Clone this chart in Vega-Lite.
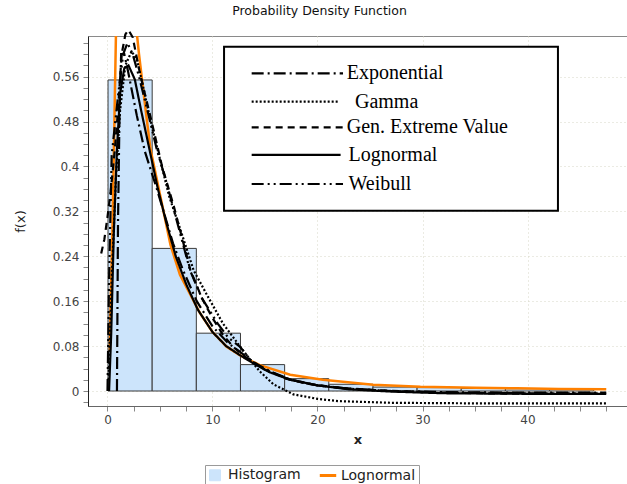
{
  "$schema": "https://vega.github.io/schema/vega-lite/v6.json",
  "autosize": "none",
  "width": 539,
  "height": 370,
  "padding": {"left": 88, "top": 36, "right": 0, "bottom": 78},
  "background": "white",
  "title": {"text": "Probability Density Function", "font": "DejaVu Sans", "fontSize": 12.5, "fontWeight": "normal", "color": "#111", "anchor": "middle", "frame": "group", "dx": -38, "offset": 8},
  "config": {
    "view": {"stroke": "#8a8a8a", "strokeWidth": 1},
    "axis": {"labelFont": "DejaVu Sans", "labelFontSize": 12, "labelColor": "#444", "titleFont": "DejaVu Sans", "titleFontSize": 13, "titleColor": "#222", "tickColor": "#888", "gridColor": "#d6d6c6", "gridDash": [1, 3], "labelOverlap": false},
    "legend": {"orient": "none", "legendX": 117, "legendY": 429, "direction": "horizontal",
               "strokeColor": "#9a9a9a", "padding": 3, "labelFont": "DejaVu Sans", "labelFontSize": 14, "labelColor": "#222",
               "columnPadding": 12, "symbolSize": 270, "labelOffset": 6}
  },
  "datasets": {
    "hist": [
      {"bin_start": 0.05, "bin_end": 4.255, "density": 0.554, "series": "Histogram"},
      {"bin_start": 4.255, "bin_end": 8.46, "density": 0.254, "series": "Histogram"},
      {"bin_start": 8.46, "bin_end": 12.665, "density": 0.103, "series": "Histogram"},
      {"bin_start": 12.665, "bin_end": 16.87, "density": 0.047, "series": "Histogram"},
      {"bin_start": 16.87, "bin_end": 21.075, "density": 0.022, "series": "Histogram"},
      {"bin_start": 21.075, "bin_end": 25.28, "density": 0.012, "series": "Histogram"},
      {"bin_start": 25.28, "bin_end": 29.485, "density": 0.007, "series": "Histogram"},
      {"bin_start": 29.485, "bin_end": 33.69, "density": 0.006, "series": "Histogram"},
      {"bin_start": 33.69, "bin_end": 37.895, "density": 0.0045, "series": "Histogram"},
      {"bin_start": 37.895, "bin_end": 42.1, "density": 0.004, "series": "Histogram"},
      {"bin_start": 42.1, "bin_end": 46.305, "density": 0.003, "series": "Histogram"}
    ],
    "orange": [
      {"x": 0.22, "f": 0.07, "series": "Lognormal"},
      {"x": 0.3, "f": 0.16, "series": "Lognormal"},
      {"x": 0.45, "f": 0.27, "series": "Lognormal"},
      {"x": 0.6, "f": 0.42, "series": "Lognormal"},
      {"x": 0.8, "f": 0.63, "series": "Lognormal"},
      {"x": 1.0, "f": 0.72, "series": "Lognormal"},
      {"x": 1.5, "f": 0.78, "series": "Lognormal"},
      {"x": 2.0, "f": 0.76, "series": "Lognormal"},
      {"x": 2.5, "f": 0.69, "series": "Lognormal"},
      {"x": 3.0, "f": 0.6, "series": "Lognormal"},
      {"x": 3.7, "f": 0.49, "series": "Lognormal"},
      {"x": 4.1, "f": 0.43, "series": "Lognormal"},
      {"x": 5.0, "f": 0.35, "series": "Lognormal"},
      {"x": 6.0, "f": 0.26, "series": "Lognormal"},
      {"x": 6.9, "f": 0.207, "series": "Lognormal"},
      {"x": 8.8, "f": 0.139, "series": "Lognormal"},
      {"x": 10.0, "f": 0.105, "series": "Lognormal"},
      {"x": 11.35, "f": 0.079, "series": "Lognormal"},
      {"x": 12.6, "f": 0.064, "series": "Lognormal"},
      {"x": 14.5, "f": 0.046, "series": "Lognormal"},
      {"x": 17.4, "f": 0.029, "series": "Lognormal"},
      {"x": 20.5, "f": 0.02, "series": "Lognormal"},
      {"x": 25.3, "f": 0.011, "series": "Lognormal"},
      {"x": 29.8, "f": 0.0075, "series": "Lognormal"},
      {"x": 35.0, "f": 0.0058, "series": "Lognormal"},
      {"x": 39.0, "f": 0.0048, "series": "Lognormal"},
      {"x": 43.0, "f": 0.0038, "series": "Lognormal"},
      {"x": 47.5, "f": 0.003, "series": "Lognormal"}
    ],
    "curves": [
      {"x": 0.9, "f": 0.0, "dist": "Exponential"},
      {"x": 1.0, "f": 0.3, "dist": "Exponential"},
      {"x": 1.15, "f": 0.5, "dist": "Exponential"},
      {"x": 1.3, "f": 0.6, "dist": "Exponential"},
      {"x": 1.6, "f": 0.6, "dist": "Exponential"},
      {"x": 1.95, "f": 0.57, "dist": "Exponential"},
      {"x": 2.8, "f": 0.49, "dist": "Exponential"},
      {"x": 3.57, "f": 0.426, "dist": "Exponential"},
      {"x": 4.7, "f": 0.36, "dist": "Exponential"},
      {"x": 5.5, "f": 0.31, "dist": "Exponential"},
      {"x": 6.24, "f": 0.263, "dist": "Exponential"},
      {"x": 7.2, "f": 0.215, "dist": "Exponential"},
      {"x": 8.5, "f": 0.16, "dist": "Exponential"},
      {"x": 10.0, "f": 0.115, "dist": "Exponential"},
      {"x": 11.5, "f": 0.085, "dist": "Exponential"},
      {"x": 12.6, "f": 0.07, "dist": "Exponential"},
      {"x": 14.0, "f": 0.05, "dist": "Exponential"},
      {"x": 15.5, "f": 0.035, "dist": "Exponential"},
      {"x": 17.5, "f": 0.02, "dist": "Exponential"},
      {"x": 20.0, "f": 0.01, "dist": "Exponential"},
      {"x": 23.0, "f": 0.004, "dist": "Exponential"},
      {"x": 27.0, "f": 0.0, "dist": "Exponential"},
      {"x": 32.0, "f": -0.002, "dist": "Exponential"},
      {"x": 40.0, "f": -0.003, "dist": "Exponential"},
      {"x": 47.5, "f": -0.003, "dist": "Exponential"},

      {"x": 0.1, "f": 0.02, "dist": "Gamma"},
      {"x": 0.4, "f": 0.2, "dist": "Gamma"},
      {"x": 0.8, "f": 0.38, "dist": "Gamma"},
      {"x": 1.2, "f": 0.5, "dist": "Gamma"},
      {"x": 1.7, "f": 0.58, "dist": "Gamma"},
      {"x": 2.3, "f": 0.605, "dist": "Gamma"},
      {"x": 2.8, "f": 0.59, "dist": "Gamma"},
      {"x": 3.3, "f": 0.55, "dist": "Gamma"},
      {"x": 4.0, "f": 0.49, "dist": "Gamma"},
      {"x": 4.7, "f": 0.435, "dist": "Gamma"},
      {"x": 5.9, "f": 0.345, "dist": "Gamma"},
      {"x": 6.9, "f": 0.29, "dist": "Gamma"},
      {"x": 8.2, "f": 0.215, "dist": "Gamma"},
      {"x": 9.45, "f": 0.172, "dist": "Gamma"},
      {"x": 11.0, "f": 0.12, "dist": "Gamma"},
      {"x": 12.6, "f": 0.08, "dist": "Gamma"},
      {"x": 13.5, "f": 0.058, "dist": "Gamma"},
      {"x": 14.5, "f": 0.035, "dist": "Gamma"},
      {"x": 15.8, "f": 0.012, "dist": "Gamma"},
      {"x": 17.7, "f": -0.006, "dist": "Gamma"},
      {"x": 20.0, "f": -0.014, "dist": "Gamma"},
      {"x": 22.0, "f": -0.018, "dist": "Gamma"},
      {"x": 27.0, "f": -0.021, "dist": "Gamma"},
      {"x": 35.0, "f": -0.022, "dist": "Gamma"},
      {"x": 47.5, "f": -0.022, "dist": "Gamma"},

      {"x": -0.6, "f": 0.245, "dist": "Gen. Extreme Value"},
      {"x": -0.3, "f": 0.27, "dist": "Gen. Extreme Value"},
      {"x": 0.0, "f": 0.31, "dist": "Gen. Extreme Value"},
      {"x": 0.3, "f": 0.355, "dist": "Gen. Extreme Value"},
      {"x": 0.7, "f": 0.43, "dist": "Gen. Extreme Value"},
      {"x": 1.0, "f": 0.5, "dist": "Gen. Extreme Value"},
      {"x": 1.35, "f": 0.6, "dist": "Gen. Extreme Value"},
      {"x": 1.7, "f": 0.635, "dist": "Gen. Extreme Value"},
      {"x": 2.0, "f": 0.643, "dist": "Gen. Extreme Value"},
      {"x": 2.4, "f": 0.63, "dist": "Gen. Extreme Value"},
      {"x": 3.1, "f": 0.565, "dist": "Gen. Extreme Value"},
      {"x": 4.2, "f": 0.48, "dist": "Gen. Extreme Value"},
      {"x": 5.2, "f": 0.4, "dist": "Gen. Extreme Value"},
      {"x": 6.3, "f": 0.33, "dist": "Gen. Extreme Value"},
      {"x": 7.0, "f": 0.28, "dist": "Gen. Extreme Value"},
      {"x": 7.9, "f": 0.215, "dist": "Gen. Extreme Value"},
      {"x": 9.0, "f": 0.165, "dist": "Gen. Extreme Value"},
      {"x": 10.0, "f": 0.13, "dist": "Gen. Extreme Value"},
      {"x": 11.0, "f": 0.1, "dist": "Gen. Extreme Value"},
      {"x": 12.0, "f": 0.078, "dist": "Gen. Extreme Value"},
      {"x": 13.5, "f": 0.055, "dist": "Gen. Extreme Value"},
      {"x": 15.0, "f": 0.038, "dist": "Gen. Extreme Value"},
      {"x": 17.0, "f": 0.022, "dist": "Gen. Extreme Value"},
      {"x": 19.0, "f": 0.013, "dist": "Gen. Extreme Value"},
      {"x": 22.0, "f": 0.006, "dist": "Gen. Extreme Value"},
      {"x": 26.0, "f": 0.001, "dist": "Gen. Extreme Value"},
      {"x": 30.0, "f": -0.002, "dist": "Gen. Extreme Value"},
      {"x": 35.0, "f": -0.004, "dist": "Gen. Extreme Value"},
      {"x": 40.0, "f": -0.005, "dist": "Gen. Extreme Value"},
      {"x": 46.5, "f": -0.005, "dist": "Gen. Extreme Value"},

      {"x": 0.15, "f": 0.0, "dist": "Lognormal"},
      {"x": 0.35, "f": 0.1, "dist": "Lognormal"},
      {"x": 0.6, "f": 0.28, "dist": "Lognormal"},
      {"x": 0.9, "f": 0.43, "dist": "Lognormal"},
      {"x": 1.2, "f": 0.53, "dist": "Lognormal"},
      {"x": 1.6, "f": 0.575, "dist": "Lognormal"},
      {"x": 2.0, "f": 0.58, "dist": "Lognormal"},
      {"x": 2.6, "f": 0.555, "dist": "Lognormal"},
      {"x": 3.2, "f": 0.5, "dist": "Lognormal"},
      {"x": 4.0, "f": 0.43, "dist": "Lognormal"},
      {"x": 4.8, "f": 0.36, "dist": "Lognormal"},
      {"x": 5.6, "f": 0.3, "dist": "Lognormal"},
      {"x": 6.5, "f": 0.24, "dist": "Lognormal"},
      {"x": 7.5, "f": 0.19, "dist": "Lognormal"},
      {"x": 8.6, "f": 0.145, "dist": "Lognormal"},
      {"x": 10.0, "f": 0.105, "dist": "Lognormal"},
      {"x": 11.3, "f": 0.08, "dist": "Lognormal"},
      {"x": 12.6, "f": 0.064, "dist": "Lognormal"},
      {"x": 14.0, "f": 0.048, "dist": "Lognormal"},
      {"x": 15.5, "f": 0.033, "dist": "Lognormal"},
      {"x": 17.4, "f": 0.02, "dist": "Lognormal"},
      {"x": 20.0, "f": 0.01, "dist": "Lognormal"},
      {"x": 23.0, "f": 0.003, "dist": "Lognormal"},
      {"x": 27.0, "f": -0.001, "dist": "Lognormal"},
      {"x": 32.0, "f": -0.004, "dist": "Lognormal"},
      {"x": 40.0, "f": -0.005, "dist": "Lognormal"},
      {"x": 47.5, "f": -0.005, "dist": "Lognormal"},

      {"x": 0.0, "f": 0.0, "dist": "Weibull"},
      {"x": 0.15, "f": 0.2, "dist": "Weibull"},
      {"x": 0.4, "f": 0.42, "dist": "Weibull"},
      {"x": 1.03, "f": 0.53, "dist": "Weibull"},
      {"x": 1.5, "f": 0.6, "dist": "Weibull"},
      {"x": 1.9, "f": 0.62, "dist": "Weibull"},
      {"x": 2.4, "f": 0.6, "dist": "Weibull"},
      {"x": 3.0, "f": 0.56, "dist": "Weibull"},
      {"x": 3.8, "f": 0.5, "dist": "Weibull"},
      {"x": 4.7, "f": 0.43, "dist": "Weibull"},
      {"x": 5.64, "f": 0.37, "dist": "Weibull"},
      {"x": 6.5, "f": 0.31, "dist": "Weibull"},
      {"x": 7.86, "f": 0.215, "dist": "Weibull"},
      {"x": 9.0, "f": 0.165, "dist": "Weibull"},
      {"x": 10.5, "f": 0.12, "dist": "Weibull"},
      {"x": 11.5, "f": 0.095, "dist": "Weibull"},
      {"x": 12.6, "f": 0.079, "dist": "Weibull"},
      {"x": 13.6, "f": 0.056, "dist": "Weibull"},
      {"x": 15.0, "f": 0.038, "dist": "Weibull"},
      {"x": 17.4, "f": 0.02, "dist": "Weibull"},
      {"x": 20.0, "f": 0.01, "dist": "Weibull"},
      {"x": 23.0, "f": 0.004, "dist": "Weibull"},
      {"x": 27.0, "f": 0.0, "dist": "Weibull"},
      {"x": 33.0, "f": -0.003, "dist": "Weibull"},
      {"x": 40.0, "f": -0.004, "dist": "Weibull"},
      {"x": 47.5, "f": -0.004, "dist": "Weibull"}
    ],
    "box": [{"bx1": 11.1, "bx2": 42.9, "by1": 0.6133, "by2": 0.3212}],
    "keylines": [
      {"kx1": 13.73, "kx2": 22.43, "ky": 0.5659, "dist": "Exponential"},
      {"kx1": 13.73, "kx2": 22.0, "ky": 0.5153, "dist": "Gamma"},
      {"kx1": 13.73, "kx2": 22.43, "ky": 0.4697, "dist": "Gen. Extreme Value"},
      {"kx1": 13.73, "kx2": 22.2, "ky": 0.4204, "dist": "Lognormal"},
      {"kx1": 13.73, "kx2": 22.43, "ky": 0.3687, "dist": "Weibull"}
    ],
    "keytext": [
      {"tx": 22.78, "ty": 0.5659, "label": "Exponential"},
      {"tx": 23.57, "ty": 0.5153, "label": "Gamma"},
      {"tx": 22.78, "ty": 0.4697, "label": "Gen. Extreme Value"},
      {"tx": 22.95, "ty": 0.4204, "label": "Lognormal"},
      {"tx": 22.95, "ty": 0.3687, "label": "Weibull"}
    ]
  },
  "layer": [
    {
      "data": {"name": "hist"},
      "mark": {"type": "bar", "stroke": "#3a3a3a", "strokeWidth": 1, "opacity": 1},
      "encoding": {
        "x": {"field": "bin_start", "type": "quantitative",
              "scale": {"domain": [-1.857, 49.476], "nice": false, "zero": false},
              "axis": {"title": "x", "titleFontWeight": "bold", "titlePadding": 8, "tickCount": 200,
                       "values": [0, 2.5, 5, 7.5, 10, 12.5, 15, 17.5, 20, 22.5, 25, 27.5, 30, 32.5, 35, 37.5, 40, 42.5, 45, 47.5],
                       "labelExpr": "datum.value % 10 === 0 ? format(datum.value, 'd') : ''",
                       "tickSize": 5,
                       "grid": true,
                       "gridOpacity": {"condition": {"test": "datum.value % 10 === 0", "value": 1}, "value": 0},
                       "domainColor": "#666", "labelPadding": 3}},
        "x2": {"field": "bin_end"},
        "y": {"field": "density", "type": "quantitative",
              "scale": {"domain": [-0.0267, 0.6323], "nice": false, "zero": false},
              "axis": {"title": "f(x)", "titleFontWeight": "normal", "titlePadding": 25, "tickCount": 200,
                       "values": [-0.02, 0, 0.02, 0.04, 0.06, 0.08, 0.1, 0.12, 0.14, 0.16, 0.18, 0.2, 0.22, 0.24, 0.26, 0.28, 0.3, 0.32, 0.34, 0.36, 0.38, 0.4, 0.42, 0.44, 0.46, 0.48, 0.5, 0.52, 0.54, 0.56, 0.58, 0.6, 0.62],
                       "labelExpr": "(datum.value * 100 + 1000.5) % 8 < 1 ? format(datum.value, '~g') : ''",
                       "tickSize": 5,
                       "grid": true,
                       "gridOpacity": {"condition": {"test": "(datum.value * 100 + 1000.5) % 8 < 1", "value": 1}, "value": 0},
                       "domainColor": "#222", "labelPadding": 4}},
        "y2": {"datum": 0},
        "color": {"field": "series", "type": "nominal",
                  "scale": {"domain": ["Histogram", "Lognormal"], "range": ["#cce4fb", "#ff8000"]},
                  "legend": {"title": null,
                             "encode": {"symbols": {"update": {
                               "shape": {"signal": "datum.value === 'Lognormal' ? 'stroke' : 'square'"},
                               "fill": {"signal": "datum.value === 'Lognormal' ? 'transparent' : '#cce4fb'"},
                               "stroke": {"signal": "datum.value === 'Lognormal' ? '#ff8000' : '#444'"},
                               "strokeWidth": {"signal": "datum.value === 'Lognormal' ? 3 : 1"},
                               "size": {"signal": "datum.value === 'Lognormal' ? 270 : 120"},
                               "opacity": {"value": 1}}}}}}
      }
    },
    {
      "data": {"name": "orange"},
      "mark": {"type": "line", "strokeWidth": 2.5, "clip": true},
      "encoding": {
        "x": {"field": "x", "type": "quantitative"},
        "y": {"field": "f", "type": "quantitative"},
        "color": {"field": "series", "type": "nominal",
                  "legend": {"title": null,
                             "encode": {"symbols": {"update": {
                               "shape": {"signal": "datum.value === 'Lognormal' ? 'stroke' : 'square'"},
                               "fill": {"signal": "datum.value === 'Lognormal' ? 'transparent' : '#cce4fb'"},
                               "stroke": {"signal": "datum.value === 'Lognormal' ? '#ff8000' : '#444'"},
                               "strokeWidth": {"signal": "datum.value === 'Lognormal' ? 3 : 1"},
                               "size": {"signal": "datum.value === 'Lognormal' ? 270 : 120"},
                               "opacity": {"value": 1}}}}}}
      }
    },
    {
      "data": {"name": "curves"},
      "mark": {"type": "line", "strokeWidth": 2.2, "color": "black"},
      "encoding": {
        "x": {"field": "x", "type": "quantitative"},
        "y": {"field": "f", "type": "quantitative"},
        "detail": {"field": "dist"},
        "strokeDash": {"field": "dist", "type": "nominal", "legend": null,
                       "scale": {"domain": ["Exponential", "Gamma", "Gen. Extreme Value", "Lognormal", "Weibull"],
                                 "range": [[12, 4, 2, 4], [2, 2], [7, 5], [1, 0], [12, 4, 2, 4, 2, 4]]}}
      }
    },
    {
      "data": {"name": "box"},
      "mark": {"type": "rect", "fill": "white", "stroke": "black", "strokeWidth": 2},
      "encoding": {
        "x": {"field": "bx1", "type": "quantitative"},
        "x2": {"field": "bx2"},
        "y": {"field": "by1", "type": "quantitative"},
        "y2": {"field": "by2"}
      }
    },
    {
      "data": {"name": "keylines"},
      "mark": {"type": "rule", "strokeWidth": 2.2, "color": "black"},
      "encoding": {
        "x": {"field": "kx1", "type": "quantitative"},
        "x2": {"field": "kx2"},
        "y": {"field": "ky", "type": "quantitative"},
        "strokeDash": {"field": "dist", "type": "nominal", "legend": null}
      }
    },
    {
      "data": {"name": "keytext"},
      "mark": {"type": "text", "font": "Liberation Serif", "fontSize": 20, "align": "left", "baseline": "middle", "color": "black"},
      "encoding": {
        "x": {"field": "tx", "type": "quantitative"},
        "y": {"field": "ty", "type": "quantitative"},
        "text": {"field": "label"}
      }
    }
  ]
}
